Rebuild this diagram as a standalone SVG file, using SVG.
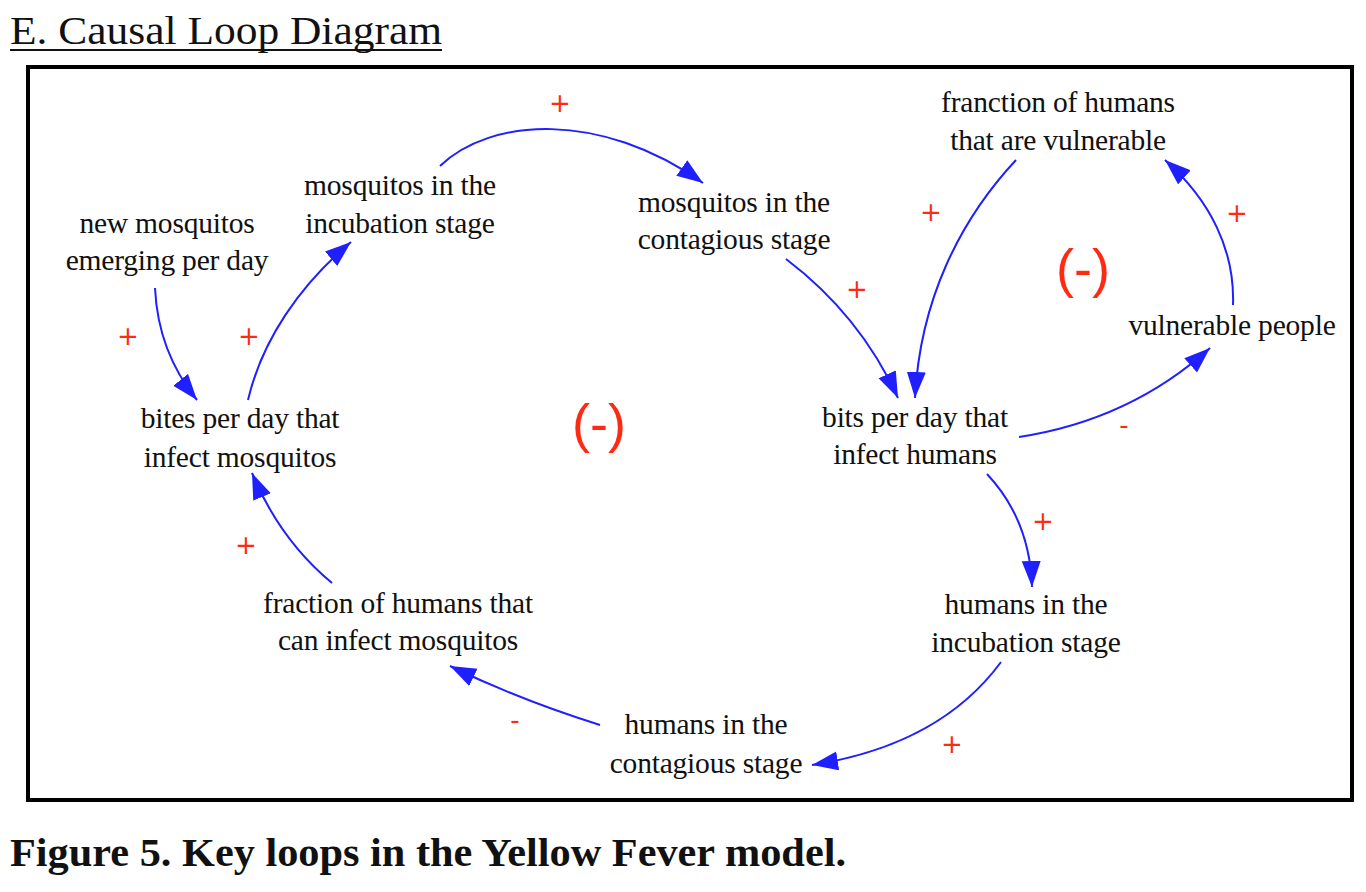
<svg xmlns="http://www.w3.org/2000/svg" width="1366" height="892" viewBox="0 0 1366 892">
<defs>
<marker id="arr" markerUnits="userSpaceOnUse" markerWidth="30" markerHeight="22" refX="26" refY="9.5" orient="auto">
<path d="M0,0 L26,9.5 L0,19 z" fill="#1f1fff"/>
</marker>
</defs>
<style>
.n{font-family:"Times New Roman","Liberation Serif",Times,serif;font-size:29.5px;fill:#111;text-anchor:middle;letter-spacing:-0.2px}
.c{fill:none;stroke:#1f1fff;stroke-width:2;marker-end:url(#arr)}
.p{font-family:"DejaVu Sans","Liberation Sans",sans-serif;font-size:26px;fill:#ff2a12;text-anchor:middle}
.loop{font-family:"Liberation Sans",Arial,sans-serif;font-size:54px;fill:#ff2a12;text-anchor:middle}
.t{font-family:"Times New Roman","Liberation Serif",Times,serif;fill:#111}
</style>
<rect width="1366" height="892" fill="#fff"/>
<g id="title">
<text class="t" x="10" y="44" font-size="39" textLength="432" lengthAdjust="spacingAndGlyphs">E. Causal Loop Diagram</text>
<line x1="10" y1="50" x2="442" y2="50" stroke="#111" stroke-width="2"/>
</g>
<rect id="frame" x="28" y="67" width="1324" height="733" fill="none" stroke="#000" stroke-width="4"/>
<g id="connectors">
<path class="c" d="M155,288 Q158,352 197,400"/>
<path class="c" d="M248,400 C262,340 300,285 351,242"/>
<path class="c" d="M440,166 C490,118 600,110 703,183"/>
<path class="c" d="M786,259 Q860,315 898,398"/>
<path class="c" d="M1016,160 C960,220 920,300 915,398"/>
<path class="c" d="M1019,437 Q1130,420 1210,348"/>
<path class="c" d="M1233,305 C1235,250 1210,200 1165,160"/>
<path class="c" d="M987,474 Q1030,520 1032,587"/>
<path class="c" d="M1001,662 Q940,745 812,765"/>
<path class="c" d="M600,725 Q520,700 450,666"/>
<path class="c" d="M332,583 Q280,540 252,473"/>
</g>
<g id="polarities">
<text class="p" x="560" y="112">+</text>
<text class="p" x="128" y="345">+</text>
<text class="p" x="249" y="345">+</text>
<text class="p" x="931" y="221">+</text>
<text class="p" x="1237" y="222">+</text>
<text class="p" x="857" y="298">+</text>
<text class="p" x="1043" y="530">+</text>
<text class="p" x="246" y="554">+</text>
<text class="p" x="952" y="753">+</text>
<text class="p" x="1124" y="434">-</text>
<text class="p" x="515" y="729">-</text>
<text class="loop" x="599" y="442">(-)</text>
<text class="loop" x="1083" y="287">(-)</text>
</g>
<g id="new-mosquitos"><text class="n" x="167" y="233">new mosquitos</text><text class="n" x="167" y="270">emerging per day</text></g>
<g id="mosq-incubation"><text class="n" x="400" y="195">mosquitos in the</text><text class="n" x="400" y="233">incubation stage</text></g>
<g id="mosq-contagious"><text class="n" x="734" y="212">mosquitos in the</text><text class="n" x="734" y="249">contagious stage</text></g>
<g id="frac-vulnerable"><text class="n" x="1058" y="112">franction of humans</text><text class="n" x="1058" y="150">that are vulnerable</text></g>
<g id="vulnerable-people"><text class="n" x="1232" y="335">vulnerable people</text></g>
<g id="bites-mosq"><text class="n" x="240" y="428">bites per day that</text><text class="n" x="240" y="467">infect mosquitos</text></g>
<g id="bits-humans"><text class="n" x="915" y="427">bits per day that</text><text class="n" x="915" y="464">infect humans</text></g>
<g id="humans-incubation"><text class="n" x="1026" y="614">humans in the</text><text class="n" x="1026" y="652">incubation stage</text></g>
<g id="frac-infect"><text class="n" x="398" y="613">fraction of humans that</text><text class="n" x="398" y="650">can infect mosquitos</text></g>
<g id="humans-contagious"><text class="n" x="706" y="734">humans in the</text><text class="n" x="706" y="773">contagious stage</text></g>
<g id="caption"><text class="t" x="10" y="866" font-weight="bold" font-size="40" fill="#000" textLength="836" lengthAdjust="spacingAndGlyphs">Figure 5. Key loops in the Yellow Fever model.</text></g>
</svg>
